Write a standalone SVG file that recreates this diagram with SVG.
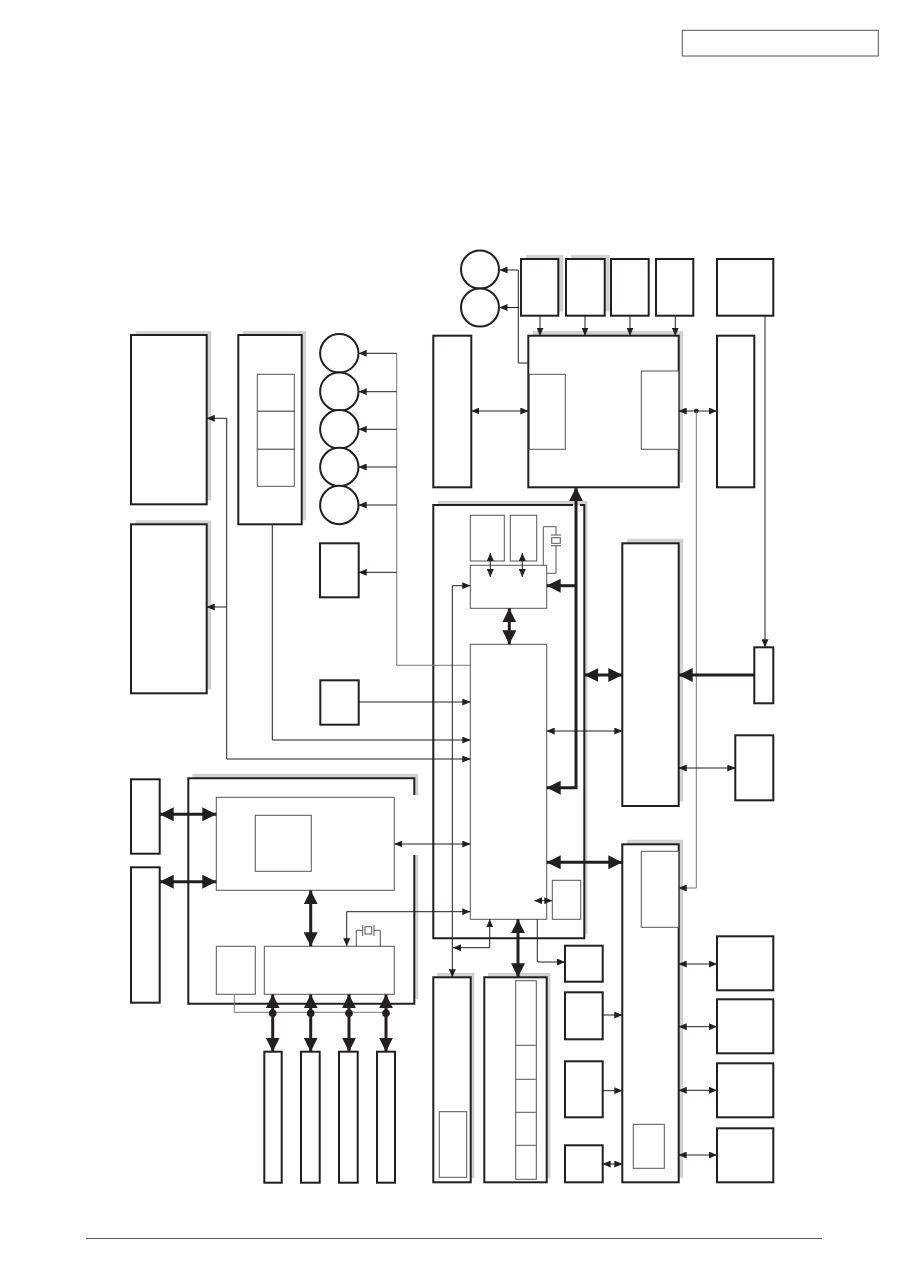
<svg xmlns="http://www.w3.org/2000/svg" width="909" height="1286" viewBox="0 0 909 1286">
<style>
.b{fill:#fff;stroke:#231f20;stroke-width:2}
.t{fill:#fff;stroke:#555;stroke-width:1}
.l{fill:none;stroke:#555;stroke-width:1}
.s{fill:#d2d2d2;stroke:none}
.c{fill:none;stroke:#231f20;stroke-width:1}
.k{fill:none;stroke:#231f20;stroke-width:3}
.g{fill:none;stroke:#777;stroke-width:1}
.e{fill:none;stroke:#231f20;stroke-width:2}
</style>
<defs>
<marker id="a" viewBox="0 0 8 7" refX="8" refY="3.5" markerWidth="8" markerHeight="7" markerUnits="userSpaceOnUse" orient="auto-start-reverse"><path d="M0,0L8,3.5L0,7z" fill="#231f20"/></marker>
<marker id="A" viewBox="0 0 14 14" refX="14" refY="7" markerWidth="14" markerHeight="14" markerUnits="userSpaceOnUse" orient="auto-start-reverse"><path d="M0,0L14,7L0,14z" fill="#231f20"/></marker>
</defs>
<rect width="909" height="1286" fill="#fff"/>
<g id="header"><rect x="682.3" y="30.3" width="196" height="25.7" fill="none" stroke="#555" stroke-width="1"/></g>
<g id="footer"><line x1="86" y1="1238.5" x2="822" y2="1238.5" stroke="#555" stroke-width="1.2"/></g>

<g id="top-boxes">
<g id="t1"><rect class="s" x="526" y="255" width="37.3" height="56.7"/><rect class="b" x="521" y="259" width="37.3" height="56.7"/></g>
<g id="t2"><rect class="s" x="571" y="255" width="38.7" height="56.7"/><rect class="b" x="566" y="259" width="38.7" height="56.7"/></g>
<g id="t3"><rect class="b" x="611" y="259" width="37.7" height="56.7"/></g>
<g id="t4"><rect class="b" x="656" y="259" width="37.3" height="56.7"/></g>
<g id="t5"><rect class="b" x="717" y="259" width="56.3" height="56.7"/></g>
<g id="fan1"><circle class="b" cx="480" cy="269.5" r="19"/></g>
<g id="fan2"><circle class="b" cx="480" cy="307.5" r="19"/></g>
</g>
<g id="main-top"><rect class="s" x="533" y="331" width="150" height="151.6"/><rect class="b" x="528.3" y="335.7" width="150.4" height="151.6"/>
<rect class="t" x="529.3" y="374.3" width="36" height="75"/><rect class="t" x="641.3" y="371" width="37.4" height="78.3"/></g>
<g id="left-tall"><rect class="b" x="433.3" y="335.7" width="38" height="151.6"/></g>
<g id="right-tall"><rect class="b" x="717" y="335.7" width="37.3" height="151.6"/></g>

<g id="boxA"><rect class="s" x="135.5" y="331" width="75.7" height="169.3"/><rect class="b" x="131" y="335" width="75.7" height="169.3"/></g>
<g id="boxB"><rect class="s" x="135.5" y="520.3" width="75.7" height="169"/><rect class="b" x="131" y="524.3" width="75.7" height="169"/></g>
<g id="boxC"><rect class="s" x="242.8" y="331" width="63.4" height="189.3"/><rect class="b" x="238.3" y="335" width="63.4" height="189.3"/>
<rect class="t" x="257.3" y="374.3" width="37" height="37"/><rect class="t" x="257.3" y="411.3" width="37" height="38"/><rect class="t" x="257.3" y="449.3" width="37" height="37"/></g>
<g id="motors">
<circle class="b" cx="339.3" cy="353.3" r="19.2"/>
<circle class="b" cx="339.3" cy="391.7" r="19.2"/>
<circle class="b" cx="339.3" cy="429.3" r="19.2"/>
<circle class="b" cx="339.3" cy="467" r="19.2"/>
<circle class="b" cx="339.3" cy="505" r="19.2"/>
</g>
<g id="small1"><rect class="b" x="320" y="543.3" width="38.7" height="54"/></g>
<g id="small2"><rect class="b" x="320.3" y="680.3" width="38.4" height="44.4"/></g>

<g id="main-frame">
<rect class="s" x="438" y="501" width="149.5" height="433"/>
<rect x="433.3" y="505" width="151" height="433.3" fill="#fff"/>
<path class="e" d="M573,505H433.3V938.3H584.3V505H580"/>
<rect class="t" x="470.3" y="515.3" width="34" height="45.7"/>
<rect class="t" x="510.3" y="515.3" width="26.4" height="45.7"/>
<rect class="t" x="470.3" y="565.3" width="76.4" height="43"/>
<rect class="t" x="470.3" y="644.3" width="76.4" height="275"/>
<rect class="t" x="552.3" y="880.3" width="28.4" height="39"/>
<path class="l" d="M546.7,573.3H556V545.7M551,545.7H561M551,535H561M556,535V526.7H543.3V565.3"/>
<rect class="l" x="551.7" y="537.7" width="8.6" height="5.6"/>
</g>

<g id="R1"><rect class="s" x="626.8" y="538.8" width="56.4" height="262.7"/><rect class="b" x="622.3" y="543.3" width="56.4" height="262.7"/></g>
<g id="R-small"><rect class="b" x="754.3" y="647.3" width="19" height="56"/></g>
<g id="R-box"><rect class="b" x="735.3" y="735.3" width="38" height="65"/></g>
<g id="R2"><rect class="s" x="626.8" y="839.8" width="56.4" height="338"/><rect class="b" x="622.3" y="844.3" width="56.4" height="338"/>
<rect class="t" x="641.3" y="851.3" width="37.4" height="76"/><rect class="t" x="633.3" y="1124.3" width="31" height="44"/></g>
<g id="rb1"><rect class="b" x="717" y="936.3" width="56.3" height="54"/></g>
<g id="rb2"><rect class="b" x="717" y="999.3" width="56.3" height="54"/></g>
<g id="rb3"><rect class="b" x="717" y="1063.3" width="56.3" height="54"/></g>
<g id="rb4"><rect class="b" x="717" y="1128.3" width="56.3" height="54"/></g>
<g id="mb1"><rect class="b" x="565" y="945.7" width="37.7" height="36"/></g>
<g id="mb2"><rect class="b" x="565" y="992.3" width="37.7" height="47"/></g>
<g id="mb3"><rect class="b" x="565" y="1061.3" width="37.7" height="56"/></g>
<g id="mb4"><rect class="b" x="565" y="1145.3" width="37.7" height="37"/></g>
<g id="bl"><rect class="s" x="437" y="973" width="37.4" height="205"/><rect class="b" x="433.3" y="977.3" width="37.4" height="205"/>
<rect class="t" x="439.3" y="1111.7" width="27.4" height="65.6"/></g>
<g id="mem"><rect class="s" x="488" y="973" width="62.4" height="205"/><rect class="b" x="484.3" y="977.3" width="62.4" height="205"/>
<rect class="t" x="515.7" y="980.7" width="20.6" height="198.6"/>
<path class="l" d="M515.7,1045.3H536.3M515.7,1079.3H536.3M515.7,1112.3H536.3M515.7,1145.3H536.3"/></g>

<g id="gl1"><rect class="b" x="131" y="779.3" width="28.7" height="74.4"/></g>
<g id="gl2"><rect class="b" x="131" y="867.3" width="28.7" height="135.4"/></g>
<g id="gframe">
<rect class="s" x="192.3" y="773.8" width="226" height="225.4"/>
<rect x="188.3" y="778.3" width="226" height="225.4" fill="#fff"/>
<rect x="413" y="795" width="8" height="60" fill="#fff"/>
<path class="e" d="M414.3,795V778.3H188.3V1003.7H414.3V855"/>
<rect class="t" x="216.3" y="797.3" width="178" height="93"/>
<rect class="t" x="255.3" y="815.3" width="56" height="56"/>
<rect class="t" x="216.3" y="946.3" width="39" height="48"/>
<rect class="t" x="264.3" y="946.3" width="130" height="48"/>
<path class="l" d="M356.3,946.3V930.3H362.7M362.7,925V936M374,925V936M374,930.3H380.3V946.3"/>
<rect class="l" x="365" y="926.7" width="6.7" height="7.3"/>
</g>
<g id="slot1"><rect class="b" x="264.3" y="1051.7" width="17.4" height="131"/></g>
<g id="slot2"><rect class="b" x="301" y="1051.7" width="18.7" height="131"/></g>
<g id="slot3"><rect class="b" x="339" y="1051.7" width="18.7" height="131"/></g>
<g id="slot4"><rect class="b" x="377" y="1051.7" width="18" height="131"/></g>

<g id="connectors">
<path class="c" d="M528.3,363H518.3V270H499.5" marker-end="url(#a)"/>
<path class="c" d="M518.3,307.5H499.5" marker-end="url(#a)"/>
<path class="c" d="M540,315.7V335.7" marker-end="url(#a)"/>
<path class="c" d="M585,315.7V335.7" marker-end="url(#a)"/>
<path class="c" d="M630,315.7V335.7" marker-end="url(#a)"/>
<path class="c" d="M675.3,315.7V335.7" marker-end="url(#a)"/>
<path class="c" d="M471.3,411H528.3" marker-start="url(#a)" marker-end="url(#a)"/>
<path class="c" d="M678.7,411H717" marker-start="url(#a)" marker-end="url(#a)"/>
<circle cx="696.3" cy="411" r="2.3" fill="#231f20"/>
<path class="g" d="M696.3,411V888H678.7" marker-end="url(#a)"/>
<path class="c" d="M765,315.7V647.3" marker-end="url(#a)"/>
<path class="k" d="M546.7,787.7H576V487.3" marker-start="url(#A)" marker-end="url(#A)"/>
<path class="k" d="M576,585.7H546.7" marker-end="url(#A)"/>

<path class="g" d="M470.3,665.3H396.7V353.3"/>
<path class="c" d="M396.7,353.3H358.7" marker-end="url(#a)"/>
<path class="c" d="M396.7,391.7H358.7" marker-end="url(#a)"/>
<path class="c" d="M396.7,429.3H358.7" marker-end="url(#a)"/>
<path class="c" d="M396.7,467H358.7" marker-end="url(#a)"/>
<path class="c" d="M396.7,505H358.7" marker-end="url(#a)"/>
<path class="c" d="M396.7,572.3H358.7" marker-end="url(#a)"/>
<path class="c" d="M206.7,418.3H226.7V759H470.3" marker-start="url(#a)" marker-end="url(#a)"/>
<path class="c" d="M226.7,607H206.7" marker-end="url(#a)"/>
<path class="c" d="M272.3,524.3V740H470.3" marker-end="url(#a)"/>
<path class="c" d="M358.7,702H470.3" marker-end="url(#a)"/>

<path class="c" d="M490.3,553V577" marker-start="url(#a)" marker-end="url(#a)"/>
<path class="c" d="M522.3,553V577" marker-start="url(#a)" marker-end="url(#a)"/>
<path class="k" d="M509.3,608.3V644.3" marker-start="url(#A)" marker-end="url(#A)"/>
<path class="c" d="M470.3,585.7H452.3V977.3" marker-start="url(#a)" marker-end="url(#a)"/>
<path class="c" d="M453,947.7H489.7V919.3" marker-start="url(#a)" marker-end="url(#a)"/>
<path class="c" d="M546.7,731H622.3" marker-start="url(#a)" marker-end="url(#a)"/>
<path class="k" d="M584.3,675H622.3" marker-start="url(#A)" marker-end="url(#A)"/>
<path class="k" d="M754.3,675H678.7" marker-end="url(#A)"/>
<path class="c" d="M678.7,768H735.3" marker-start="url(#a)" marker-end="url(#a)"/>
<path class="c" d="M534.3,900.7H552.3" marker-start="url(#a)" marker-end="url(#a)"/>
<path class="k" d="M546.7,862.3H622.3" marker-start="url(#A)" marker-end="url(#A)"/>
<path class="c" d="M537.3,919.3V962H565" marker-end="url(#a)"/>
<path class="k" d="M518,919.3V977.3" marker-start="url(#A)" marker-end="url(#A)"/>
<path class="c" d="M678.7,964H717" marker-start="url(#a)" marker-end="url(#a)"/>
<path class="c" d="M678.7,1026.7H717" marker-start="url(#a)" marker-end="url(#a)"/>
<path class="c" d="M678.7,1090.3H717" marker-start="url(#a)" marker-end="url(#a)"/>
<path class="c" d="M678.7,1155H717" marker-start="url(#a)" marker-end="url(#a)"/>
<path class="c" d="M602.7,1015H622.3" marker-end="url(#a)"/>
<path class="c" d="M602.7,1090.7H622.3" marker-end="url(#a)"/>
<path class="c" d="M602.7,1164H622.3" marker-start="url(#a)" marker-end="url(#a)"/>

<path class="k" d="M159.7,814.3H216.3" marker-start="url(#A)" marker-end="url(#A)"/>
<path class="k" d="M159.7,881.7H216.3" marker-start="url(#A)" marker-end="url(#A)"/>
<path class="c" d="M394.3,844H470.3" marker-start="url(#a)" marker-end="url(#a)"/>
<path class="k" d="M310.7,890.3V946.3" marker-start="url(#A)" marker-end="url(#A)"/>
<path class="c" d="M470.3,911.7H346.7V946.3" marker-start="url(#a)" marker-end="url(#a)"/>
<path class="g" d="M234.3,994.3V1012.3H386"/>
<path class="k" d="M272.7,994.3V1051.7" marker-start="url(#A)" marker-end="url(#A)"/>
<path class="k" d="M310.7,994.3V1051.7" marker-start="url(#A)" marker-end="url(#A)"/>
<path class="k" d="M349,994.3V1051.7" marker-start="url(#A)" marker-end="url(#A)"/>
<path class="k" d="M386,994.3V1051.7" marker-start="url(#A)" marker-end="url(#A)"/>
<circle cx="272.7" cy="1013.3" r="3.8" fill="#231f20"/>
<circle cx="310.7" cy="1013.3" r="3.8" fill="#231f20"/>
<circle cx="349" cy="1013.3" r="3.8" fill="#231f20"/>
<circle cx="386" cy="1013.3" r="3.8" fill="#231f20"/>
</g>
</svg>
